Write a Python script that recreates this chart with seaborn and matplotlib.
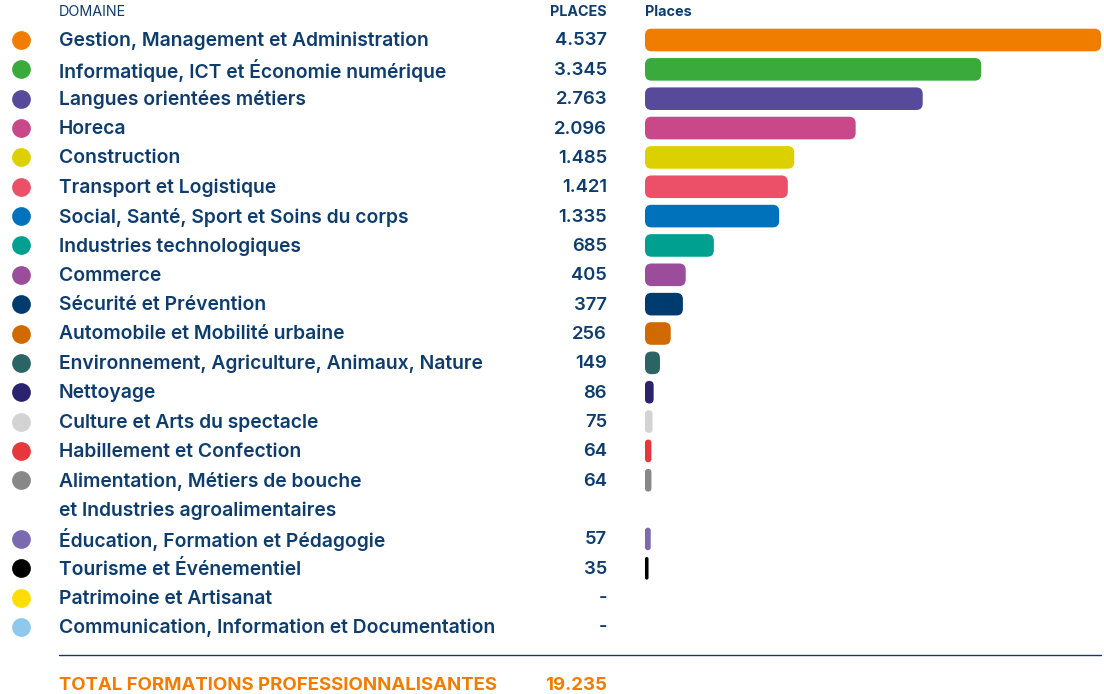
import numpy as np
import pandas as pd
import matplotlib
matplotlib.use("Agg")
import matplotlib.pyplot as plt
import seaborn as sns
from matplotlib.patches import FancyBboxPatch
from matplotlib.transforms import blended_transform_factory

# ---------------- data ----------------
domaines = [
    "Gestion, Management et Administration",
    "Informatique, ICT et Économie numérique",
    "Langues orientées métiers",
    "Horeca",
    "Construction",
    "Transport et Logistique",
    "Social, Santé, Sport et Soins du corps",
    "Industries technologiques",
    "Commerce",
    "Sécurité et Prévention",
    "Automobile et Mobilité urbaine",
    "Environnement, Agriculture, Animaux, Nature",
    "Nettoyage",
    "Culture et Arts du spectacle",
    "Habillement et Confection",
    "Alimentation, Métiers de bouche\net Industries agroalimentaires",
    "Éducation, Formation et Pédagogie",
    "Tourisme et Événementiel",
    "Patrimoine et Artisanat",
    "Communication, Information et Documentation",
]
places = [4537, 3345, 2763, 2096, 1485, 1421, 1335, 685, 405, 377, 256, 149,
          86, 75, 64, 64, 57, 35, np.nan, np.nan]
couleurs = ["#F07C00", "#3AAA3C", "#574A9A", "#C9488A", "#DDD000", "#EC5068",
            "#0072BC", "#00A090", "#9B4C9B", "#003B6F", "#D06A00", "#2B6464",
            "#2B2270", "#D3D3D3", "#E8373C", "#888888", "#7B6AB0", "#000000",
            "#FFDD00", "#8EC8EE"]
total_label = "TOTAL FORMATIONS PROFESSIONNALISANTES"
total_value = 19235
header_domaine = "DOMAINE"
header_places = "PLACES"
header_bars = "Places"

NAVY = "#0E3D6D"
ORANGE = "#F07C00"

def fmt(v):
    if np.isnan(v):
        return "-"
    return f"{int(v):,}".replace(",", ".")

# row slots (multi-line labels take extra slots)
slots = []
s = 0
for d in domaines:
    slots.append(s)
    s += d.count("\n") + 1

df = pd.DataFrame({"domaine": domaines, "places": places, "pos": slots})
bars_df = df.dropna(subset=["places"])

# ---------------- figure ----------------
sns.set_theme(style="white")
plt.rcParams["font.family"] = ["Inter", "DejaVu Sans"]

W, H = 1104, 694
fig = plt.figure(figsize=(W / 100, H / 100), dpi=100)

pitch = 29.35     # px per row
y0 = 40           # px of first row centre
bar_left, bar_right = 645, 1101
ax = fig.add_axes([bar_left / W, 0, (bar_right - bar_left) / W, 1])
xmax = max(bars_df["places"])
top = -y0 / pitch
bottom = (H - y0) / pitch

sns.barplot(data=bars_df, x="places", y="pos", hue="domaine",
            palette=dict(zip(domaines, couleurs)), orient="h",
            native_scale=True, dodge=False, legend=False, width=0.77,
            saturation=1, linewidth=0, ax=ax)
ax.set_xlim(0, xmax)
ax.set_ylim(bottom, top)
ax.axis("off")

# rounded bars
xu = xmax / (bar_right - bar_left)      # x units per px
yu = (bottom - top) / H                 # y units per px
for p in list(ax.patches):
    x, y = p.get_x(), p.get_y()
    w, h = p.get_width(), p.get_height()
    fc = p.get_facecolor()
    p.remove()
    w = max(w, 3 * xu)
    r_px = min(6.5, (w / xu) / 2, (h / yu) / 2)
    fb = FancyBboxPatch((x, y), w, h,
                        boxstyle=f"round,pad=0,rounding_size={r_px * xu}",
                        mutation_aspect=yu / xu, facecolor=fc, edgecolor="none")
    ax.add_patch(fb)

# text columns
tr_lab = blended_transform_factory(fig.transFigure, ax.transData)
x_dot = 21 / W
x_text = 59 / W
x_val = 607 / W
fs_lab = 13.9
fs_val = 13.3
dy = -0.035
for d, v, c, pos in zip(domaines, places, couleurs, slots):
    ax.plot([x_dot], [pos], marker="o", markersize=13.5, color=c,
            transform=tr_lab, clip_on=False, markeredgewidth=0)
    for k, line in enumerate(d.split("\n")):
        ax.text(x_text, pos + k + dy, line, transform=tr_lab, ha="left",
                va="center_baseline", fontsize=fs_lab, color=NAVY,
                fontweight="semibold")
    ax.text(x_val, pos + dy, fmt(v), transform=tr_lab, ha="right",
            va="center_baseline", fontsize=fs_val, color=NAVY,
            fontweight="semibold")

# headers
hy = 1 - 12 / H
fig.text(x_text, hy, header_domaine, ha="left", va="center", fontsize=10.3,
         color=NAVY, fontweight="normal")
fig.text(x_val, hy, header_places, ha="right", va="center", fontsize=10.3,
         color=NAVY, fontweight="bold")
fig.text(bar_left / W, hy, header_bars, ha="left", va="center", fontsize=10.3,
         color=NAVY, fontweight="bold")

# separator + total
ly = 1 - 655 / H
fig.add_artist(plt.Line2D([x_text, bar_right / W], [ly, ly], color=NAVY,
                          linewidth=1.0, transform=fig.transFigure))
ty = 1 - 685 / H
fig.text(x_text, ty, total_label, ha="left", va="center", fontsize=13.4,
         color=ORANGE, fontweight="bold")
fig.text(x_val, ty, fmt(total_value), ha="right", va="center", fontsize=13.4,
         color=ORANGE, fontweight="bold")

fig.savefig("out.png", dpi=100)
